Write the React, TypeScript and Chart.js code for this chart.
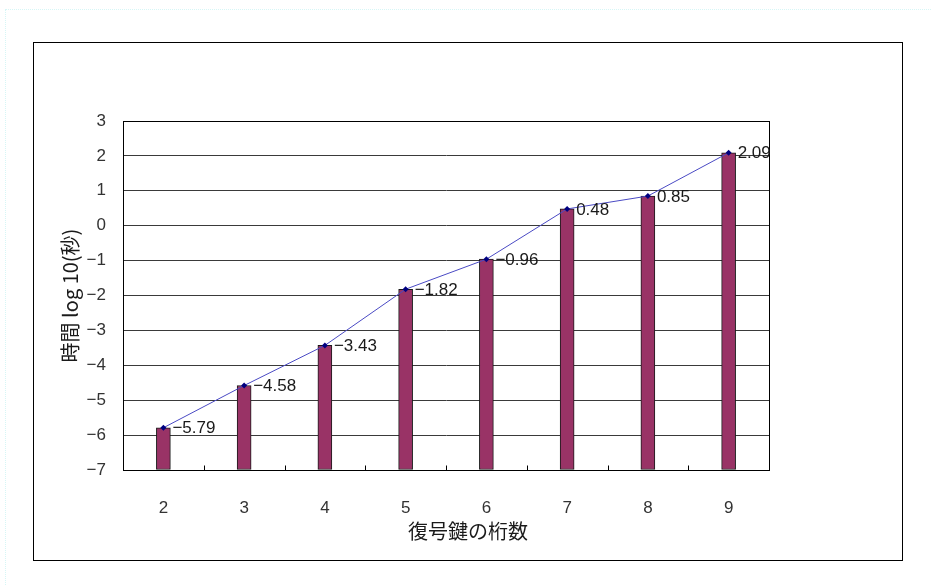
import React, { useEffect, useRef } from "react";
import { Chart, registerables } from "chart.js";

Chart.register(...registerables);

// 復号鍵の桁数ごとの解読時間 (log10 秒)
const digits: string[] = ["2", "3", "4", "5", "6", "7", "8", "9"];
const logSeconds: number[] = [-5.79, -4.58, -3.43, -1.82, -0.96, 0.48, 0.85, 2.09];
const yMin = -7;
const yMax = 3;

const xTitle = "復号鍵の桁数";
const yTitle = "時間 log 10(秒)";

const NUM_FONT = '"Liberation Sans", Arial, sans-serif';
const JP_FONT = '"Noto Sans CJK JP", "Liberation Sans", sans-serif';

const fmt = (v: number, decimals = 0) =>
  (v < 0 ? "\u2212" : "") + Math.abs(v).toFixed(decimals);

// Outer chart frame, plot-area border, inner category ticks and value labels
const decorations = {
  id: "decorations",
  beforeDatasetsDraw(chart: Chart) {
    const { ctx, chartArea } = chart;
    const x = chart.scales.x;
    ctx.save();
    ctx.strokeStyle = "#000";
    ctx.lineWidth = 1;
    ctx.strokeRect(
      Math.round(chartArea.left) + 0.5,
      Math.round(chartArea.top) + 0.5,
      Math.round(chartArea.right - chartArea.left),
      Math.round(chartArea.bottom - chartArea.top)
    );
    // short tick marks between categories, pointing into the plot
    const bottom = Math.round(chartArea.bottom) + 0.5;
    ctx.beginPath();
    for (let i = 1; i < digits.length; i++) {
      const px = Math.round((x.getPixelForTick(i - 1) + x.getPixelForTick(i)) / 2) + 0.5;
      ctx.moveTo(px, bottom);
      ctx.lineTo(px, bottom - 5);
    }
    ctx.stroke();
    ctx.restore();
  },
  afterDatasetsDraw(chart: Chart) {
    const { ctx } = chart;
    const meta = chart.getDatasetMeta(1);
    ctx.save();
    ctx.font = `17px ${NUM_FONT}`;
    ctx.fillStyle = "#1a1a1a";
    ctx.textAlign = "left";
    ctx.textBaseline = "middle";
    meta.data.forEach((el: any, i: number) => {
      ctx.fillText(fmt(logSeconds[i], 2), el.x + 9, el.y + 1);
    });
    ctx.restore();
  },
  afterDraw(chart: Chart) {
    const { ctx, width, height } = chart;
    const pad = { left: 33, right: 28, top: 42, bottom: 24 };
    ctx.save();
    ctx.strokeStyle = "#000";
    ctx.lineWidth = 1;
    ctx.strokeRect(
      pad.left + 0.5,
      pad.top + 0.5,
      width - pad.left - pad.right - 1,
      height - pad.top - pad.bottom - 1
    );
    ctx.restore();
  },
};

export default function App() {
  const canvasRef = useRef<HTMLCanvasElement | null>(null);

  useEffect(() => {
    const canvas = canvasRef.current;
    if (!canvas) return;
    const chart = new Chart(canvas, {
      type: "bar",
      data: {
        labels: digits,
        datasets: [
          {
            type: "bar",
            data: logSeconds,
            base: yMin,
            backgroundColor: "#993366",
            borderColor: "#1a1a1a",
            borderWidth: 1,
            borderSkipped: false,
            barThickness: 14,
            order: 2,
          },
          {
            type: "line",
            data: logSeconds,
            borderColor: "#4a4ac4",
            borderWidth: 1,
            pointStyle: "rectRot",
            pointRadius: 3,
            pointBackgroundColor: "#000080",
            pointBorderColor: "#000080",
            pointBorderWidth: 0,
            tension: 0,
            order: 1,
          },
        ],
      },
      options: {
        responsive: false,
        animation: false,
        events: [],
        layout: { padding: { left: 33, right: 28, top: 121, bottom: 24 } },
        plugins: {
          legend: { display: false },
          tooltip: { enabled: false },
          title: {
            display: true,
            position: "bottom",
            text: xTitle,
            color: "#1a1a1a",
            font: { family: JP_FONT, size: 20, weight: "normal" },
            padding: { top: 0, bottom: 17.5 },
          },
        },
        scales: {
          x: {
            type: "category",
            offset: true,
            grid: { display: false },
            border: { display: true, color: "#000", width: 1 },
            ticks: {
              color: "#333",
              padding: 20,
              maxRotation: 0,
              font: { family: NUM_FONT, size: 17 },
            },
            afterFit(scale: any) {
              scale.height = 49.5;
            },
          },
          y: {
            type: "linear",
            position: "left",
            min: yMin,
            max: yMax,
            grid: { color: "#3a3a3a", lineWidth: 1, drawTicks: false },
            border: { display: true, color: "#000", width: 1 },
            ticks: {
              stepSize: 1,
              padding: 17,
              color: "#333",
              font: { family: NUM_FONT, size: 17 },
              callback: (v: any) => fmt(Number(v)),
            },
            title: {
              display: true,
              text: yTitle,
              color: "#1a1a1a",
              font: { family: JP_FONT, size: 20, weight: "normal" },
              padding: { top: 25, bottom: 0 },
            },
            afterFit(scale: any) {
              scale.width = 90;
            },
          },
          yRight: {
            type: "linear",
            position: "right",
            display: true,
            grid: { display: false },
            border: { display: false },
            ticks: { display: false },
            afterFit(scale: any) {
              scale.width = 134;
            },
          },
        },
      },
      plugins: [decorations],
    });
    return () => chart.destroy();
  }, []);

  return (
    <div style={{ position: "absolute", left: 0, top: 0, width: 931, height: 585, background: "#fff" }}>
      <div
        style={{
          position: "absolute",
          left: 5,
          top: 9,
          right: 0,
          bottom: 0,
          borderTop: "1px dotted #d6f6f6",
          borderLeft: "1px dotted #d6f6f6",
        }}
      />
      <canvas
        ref={canvasRef}
        width={931}
        height={585}
        style={{ position: "absolute", left: 0, top: 0, display: "block" }}
      />
    </div>
  );
}
